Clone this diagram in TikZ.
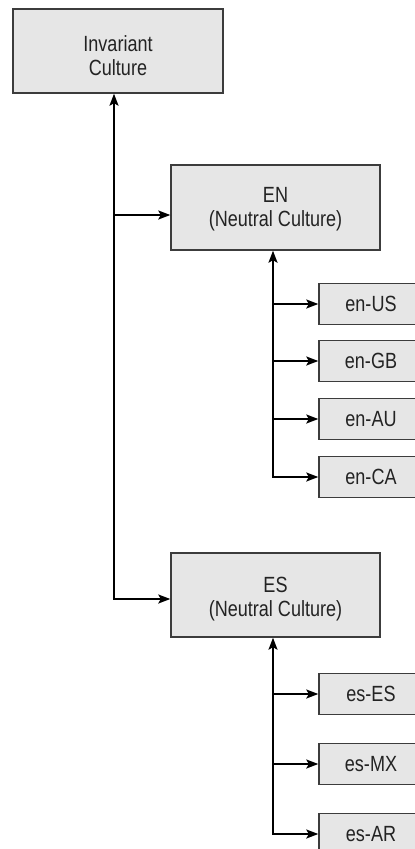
\documentclass[tikz,border=0pt]{standalone}
\usepackage{fontspec}
\setmainfont[FakeStretch=0.82]{Liberation Sans}
\usetikzlibrary{arrows.meta}
\definecolor{boxfill}{RGB}{230,230,230}
\definecolor{boxline}{RGB}{60,60,60}
\definecolor{ink}{RGB}{35,35,35}
% invisible strut that lowers a two-line label inside its box
\newcommand{\lowerby}[1]{\rule{0pt}{#1}}
\tikzset{
  culture/.style={draw=boxline, line width=1.4pt, fill=boxfill, text=ink,
    align=center, inner sep=0pt,
    font=\fontsize{22}{24.4}\selectfont},
  bigbox/.style={culture, minimum width=209pt, minimum height=84pt},
  smallbox/.style={culture, minimum width=104pt, minimum height=41pt},
  link/.style={draw=black, line width=1.8pt,
    -{Stealth[length=12pt,width=9pt,inset=2.5pt]}},
  linkboth/.style={draw=black, line width=1.8pt,
    {Stealth[length=12pt,width=9pt,inset=2.5pt]}-{Stealth[length=12pt,width=9pt,inset=2.5pt]}}
}
\begin{document}
\begin{tikzpicture}[x=1pt,y=-1pt]
\useasboundingbox (0,0) rectangle (415,849);

% neutral and invariant cultures
\node[bigbox, minimum width=210pt] (inv) at (118,51) {\lowerby{25pt}Invariant\\Culture};
\node[bigbox, minimum height=85pt] (en) at (275.5,207.5) {\lowerby{18pt}EN\\(Neutral Culture)};
\node[bigbox] (es) at (275.5,595) {\lowerby{23pt}ES\\(Neutral Culture)};

% specific cultures
\node[smallbox] (enUS) at (371,304) {en-US};
\node[smallbox] (enGB) at (371,361) {en-GB};
\node[smallbox] (enAU) at (371,419) {en-AU};
\node[smallbox] (enCA) at (371,477) {en-CA};
\node[smallbox] (esES) at (371,694) {es-ES};
\node[smallbox] (esMX) at (371,764) {es-MX};
\node[smallbox] (esAR) at (371,834) {es-AR};

% trunk from the invariant culture
\coordinate (t1) at (114,599);
\coordinate (b1) at (114,215);
\draw[linkboth] (t1 |- inv.south) -- (t1) -- (t1 -| es.west);
\draw[link] (b1) -- (b1 -| en.west);

% English branch
\coordinate (s1) at (273,477);
\draw[linkboth] (s1 |- en.south) -- (s1) -- (enCA.west);
\draw[link] (s1 |- enUS) -- (enUS.west);
\draw[link] (s1 |- enGB) -- (enGB.west);
\draw[link] (s1 |- enAU) -- (enAU.west);

% Spanish branch
\coordinate (s2) at (273,834);
\draw[linkboth] (s2 |- es.south) -- (s2) -- (esAR.west);
\draw[link] (s2 |- esES) -- (esES.west);
\draw[link] (s2 |- esMX) -- (esMX.west);
\end{tikzpicture}
\end{document}
